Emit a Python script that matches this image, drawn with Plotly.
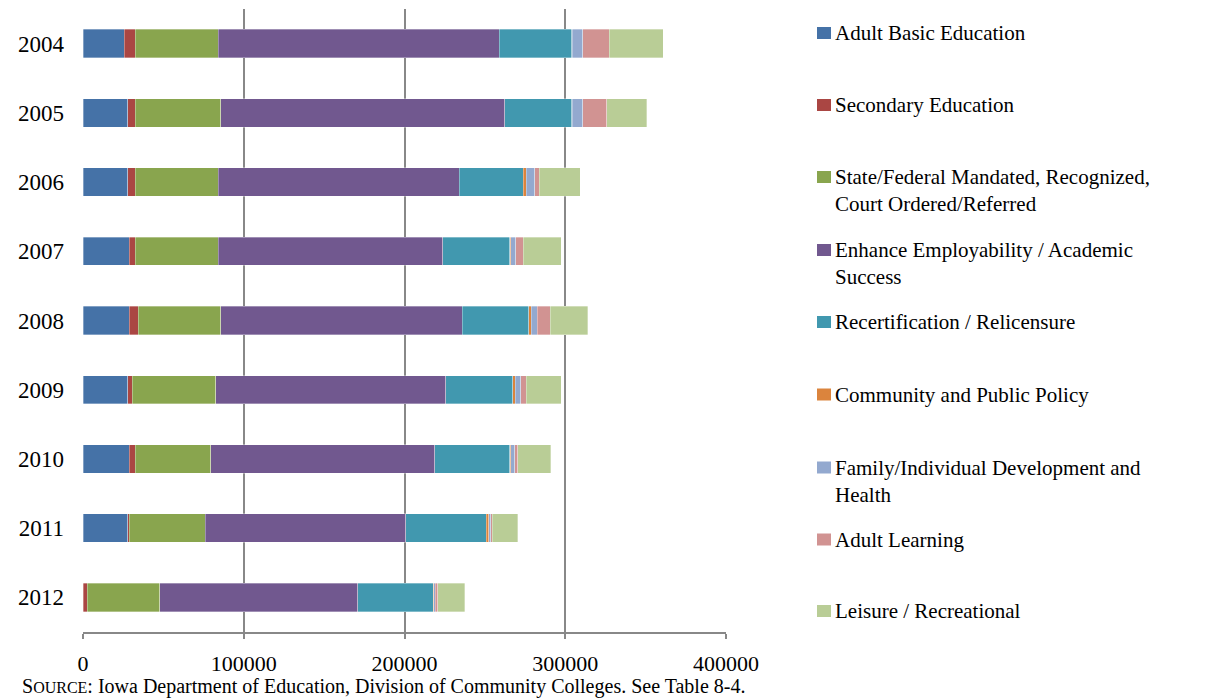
import plotly.graph_objects as go

years = ["2004", "2005", "2006", "2007", "2008", "2009", "2010", "2011", "2012"]

series_names = [
    "Adult Basic Education",
    "Secondary Education",
    "State/Federal Mandated, Recognized,<br>Court Ordered/Referred",
    "Enhance Employability / Academic<br>Success",
    "Recertification / Relicensure",
    "Community and Public Policy",
    "Family/Individual Development and<br>Health",
    "Adult Learning",
    "Leisure / Recreational",
]

adult_basic = [25700, 27700, 27700, 28900, 28900, 27700, 28900, 27700, 0]
secondary = [6900, 4900, 4900, 3500, 5500, 3000, 3500, 1200, 2700]
mandated = [51500, 53200, 51500, 51700, 51400, 51900, 47000, 47000, 45000]
employability = [174900, 176600, 149900, 139700, 150200, 143000, 139500, 124900, 123200]
recertification = [45000, 41600, 39800, 41800, 41300, 41800, 46700, 50000, 47000]
community = [300, 500, 2000, 400, 1700, 1500, 500, 1700, 300]
family = [6600, 6400, 5200, 3100, 3700, 3400, 2500, 1300, 900]
adult_learning = [16600, 14800, 2900, 4700, 7900, 3500, 2000, 700, 1500]
leisure = [33400, 25000, 25300, 23800, 23500, 21800, 20300, 16100, 17000]

x_tick_values = [0, 100000, 200000, 300000, 400000]
x_tick_labels = ["0", "100000", "200000", "300000", "400000"]

colors = ["#4572A7", "#AA4643", "#89A54E", "#71588F", "#4198AF",
          "#DB843D", "#93A9CF", "#D19392", "#B9CD96"]

all_series = [adult_basic, secondary, mandated, employability, recertification,
              community, family, adult_learning, leisure]

FONT = "Liberation Serif, Times New Roman, serif"

fig = go.Figure()
for name, vals, col in zip(series_names, all_series, colors):
    fig.add_trace(go.Bar(
        y=years, x=vals, orientation="h", name=name,
        marker=dict(color=col, line=dict(width=0.6, color="rgba(255,255,255,0.55)")),
        showlegend=False,
    ))

# plot area geometry in pixels
L, R, T, B = 83, 489, 9, 66
W, H = 1215, 698
pw = W - L - R
ph = H - T - B


def px_x(px):
    return (px - L) / pw


def px_y(py):
    return (H - B - py) / ph


legend_centers = [33, 105, 177, 250, 322, 394.5, 467.5, 539.5, 611]
leg_fs = 21
shapes = []
annotations = []
for name, col, cy in zip(series_names, colors, legend_centers):
    shapes.append(dict(type="rect", xref="paper", yref="paper",
                       x0=px_x(817), x1=px_x(831), y0=px_y(cy + 6), y1=px_y(cy - 6),
                       fillcolor=col, line=dict(width=0)))
    annotations.append(dict(xref="paper", yref="paper", x=px_x(833),
                            y=px_y(cy - 0.6 * leg_fs - 1),
                            xanchor="left", yanchor="top", align="left",
                            text=name, showarrow=False,
                            font=dict(family=FONT, size=leg_fs, color="#000000")))

annotations.append(dict(xref="paper", yref="paper", x=px_x(20), y=px_y(686),
                        xanchor="left", yanchor="middle", showarrow=False,
                        text="S<span style='font-size:16px'>OURCE</span>: Iowa Department of Education, Division of Community Colleges. See Table 8-4.",
                        font=dict(family=FONT, size=20, color="#000000")))

fig.update_layout(
    barmode="stack",
    bargap=0.59,
    width=W, height=H,
    margin=dict(l=L, r=R, t=T, b=B, pad=0),
    plot_bgcolor="white",
    paper_bgcolor="white",
    font=dict(family=FONT, color="#000000"),
    shapes=shapes,
    annotations=annotations,
    xaxis=dict(
        range=[0, 400000],
        tickvals=x_tick_values, ticktext=x_tick_labels,
        showgrid=True, gridcolor="#888888", gridwidth=2,
        zeroline=False,
        showline=True, linecolor="#888888", linewidth=2,
        ticks="outside", ticklen=5, tickwidth=2, tickcolor="#888888",
        tickfont=dict(family=FONT, size=22, color="#000000"),
        ticklabelstandoff=6,
        fixedrange=True,
    ),
    yaxis=dict(
        categoryorder="array", categoryarray=years,
        autorange="reversed",
        showgrid=False, zeroline=False, showline=False,
        ticks="",
        tickfont=dict(family=FONT, size=23, color="#000000"),
        ticklabelstandoff=18,
        fixedrange=True,
    ),
)

fig.write_html("out.html",
               config={"displayModeBar": False},
               post_script="document.body.style.margin='0px';document.body.style.overflow='hidden';")
